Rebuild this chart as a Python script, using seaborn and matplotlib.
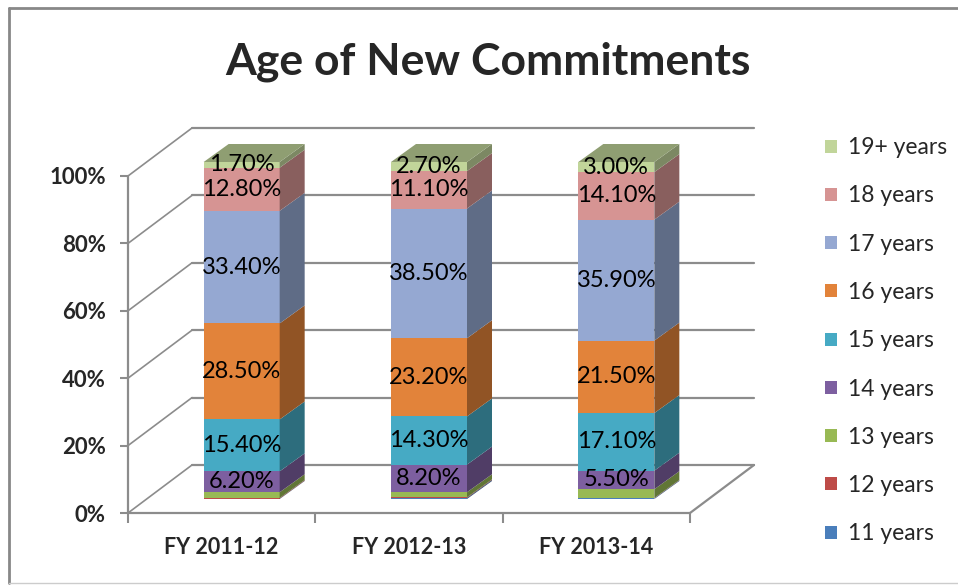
import numpy as np
import pandas as pd
import matplotlib
matplotlib.use("Agg")
import matplotlib.pyplot as plt
import seaborn as sns
from matplotlib.patches import Polygon, Patch
from matplotlib.lines import Line2D
from matplotlib.colors import to_rgb

# --- DATA ---
years = ["FY 2011-12", "FY 2012-13", "FY 2013-14"]
age_groups = ["11 years", "12 years", "13 years", "14 years", "15 years",
              "16 years", "17 years", "18 years", "19+ years"]
pct_11 = [0.1, 0.3, 0.2]
pct_12 = [0.2, 0.2, 0.1]
pct_13 = [1.7, 1.5, 2.6]
pct_14 = [6.2, 8.2, 5.5]
pct_15 = [15.4, 14.3, 17.1]
pct_16 = [28.5, 23.2, 21.5]
pct_17 = [33.4, 38.5, 35.9]
pct_18 = [12.8, 11.1, 14.1]
pct_19 = [1.7, 2.7, 3.0]
labelled_groups = ["14 years", "15 years", "16 years", "17 years", "18 years", "19+ years"]
y_ticks = [0, 20, 40, 60, 80, 100]

colors = ["#4A7EBB", "#BE4B48", "#98B954", "#7D5FA0", "#46AAC4",
          "#E2833A", "#95A8D2", "#D69493", "#C1D59A"]

df = pd.DataFrame([pct_11, pct_12, pct_13, pct_14, pct_15, pct_16, pct_17, pct_18, pct_19],
                  index=age_groups, columns=years).T
cum = df.cumsum(axis=1)

# --- LAYOUT (pixels of a 958x585 canvas) ---
W, H = 958, 585
def box(l, t, r, b):
    return [l / W, 1 - b / H, (r - l) / W, (b - t) / H]

PX_X = 562 / 3.0      # pixels per category
PX_Y = 337 / 100.0    # pixels per percent
WALL_DX, WALL_DY = 64 / PX_X, 48 / PX_Y
BAR_DX, BAR_DY = 25 / PX_X, 18 / PX_Y
BAR_W = 76 / PX_X

sns.set_style("white")
plt.rcParams['font.family'] = ['Lato', 'DejaVu Sans']

fig = plt.figure(figsize=(W / 100, H / 100), dpi=100)

# axes with the 3D wall / floor
ax = fig.add_axes(box(128, 176, 690, 513))
ax.set_xlim(-0.5, 2.5)
ax.set_ylim(0, 100)
ax.set_facecolor("none")
for s in ax.spines.values():
    s.set_visible(False)
grid_col = "#8C8C8C"
for t in y_ticks:
    ax.plot([-0.5 + WALL_DX, 2.5 + WALL_DX], [t + WALL_DY] * 2, color=grid_col, lw=1.6, clip_on=False, zorder=1)
    ax.plot([-0.5, -0.5 + WALL_DX], [t, t + WALL_DY], color=grid_col, lw=1.2, clip_on=False, zorder=1)
ax.plot([-0.5, -0.5], [0, 100], color=grid_col, lw=1.6, clip_on=False)
ax.plot([-0.5, 2.5], [0, 0], color=grid_col, lw=1.6, clip_on=False)
ax.plot([2.5, 2.5 + WALL_DX], [0, WALL_DY], color=grid_col, lw=1.6, clip_on=False)

ax.set_yticks(y_ticks)
ax.set_yticklabels([f"{t}%" for t in y_ticks], fontsize=16, fontweight="bold")
ax.set_xticks(range(len(years)))
ax.set_xticklabels(years, fontsize=15.5, fontweight="bold")
ax.set_xticks([-0.5, 0.5, 1.5, 2.5], minor=True)
ax.tick_params(axis="y", length=6, color=grid_col, width=1.5, pad=10, left=True)
ax.tick_params(axis="x", which="major", length=0, pad=17)
ax.tick_params(axis="x", which="minor", length=7, color=grid_col, width=1.5, bottom=True)

# axes with the bars (front faces shifted into depth)
bax = fig.add_axes(box(148, 162, 710, 499))
bax.set_facecolor("none")
for age, col in reversed(list(zip(age_groups, colors))):
    sns.barplot(x=years, y=cum[age].values, color=col, width=BAR_W, saturation=1,
                edgecolor="none", linewidth=0, ax=bax)
bax.set_xlim(-0.5, 2.5)
bax.set_ylim(0, 100)
bax.axis("off")

def shade(c, f):
    return tuple(v * f for v in to_rgb(c))

for i in range(len(years)):
    xr = i + BAR_W / 2
    xl = i - BAR_W / 2
    for age, col in zip(age_groups, colors):
        top = cum.loc[years[i], age]
        bot = top - df.loc[years[i], age]
        bax.add_patch(Polygon([(xr, bot), (xr + BAR_DX, bot + BAR_DY),
                               (xr + BAR_DX, top + BAR_DY), (xr, top)],
                              closed=True, fc=shade(col, 0.64), ec="none", clip_on=False))
    top = cum.loc[years[i], age_groups[-1]]
    bax.add_patch(Polygon([(xl, top), (xl + BAR_DX, top + BAR_DY),
                           (xr + BAR_DX, top + BAR_DY), (xr, top)],
                          closed=True, fc=shade(colors[-1], 0.74), ec="none", clip_on=False))
    for age in labelled_groups:
        val = df.loc[years[i], age]
        mid = cum.loc[years[i], age] - val / 2
        bax.text(i, mid, f"{val:.2f}%", ha="center", va="center", fontsize=17,
                 color="black", clip_on=False)

# title
fig.text(488 / W, 1 - 62 / H, "Age of New Commitments", ha="center", va="center",
         fontsize=32, fontweight="bold")

# legend
handles = [Patch(facecolor=c, edgecolor="none") for c in reversed(colors)]
fig.legend(handles, list(reversed(age_groups)), loc="upper left",
           bbox_to_anchor=(816 / W, 1 - 128 / H), frameon=False, fontsize=16.5,
           labelspacing=1.19, handlelength=0.5, handleheight=0.5, handletextpad=0.5,
           borderaxespad=0)

# chart frame
fig.add_artist(Line2D([9 / W, 1], [1 - 8 / H] * 2, transform=fig.transFigure, color="#888888", lw=2))
fig.add_artist(Line2D([9 / W, 9 / W], [1 - 8 / H, 1 - 583 / H], transform=fig.transFigure, color="#888888", lw=2))
fig.add_artist(Line2D([9 / W, 1], [1 - 583 / H] * 2, transform=fig.transFigure, color="#CCCCCC", lw=1))

fig.savefig("out.png", dpi=100)
